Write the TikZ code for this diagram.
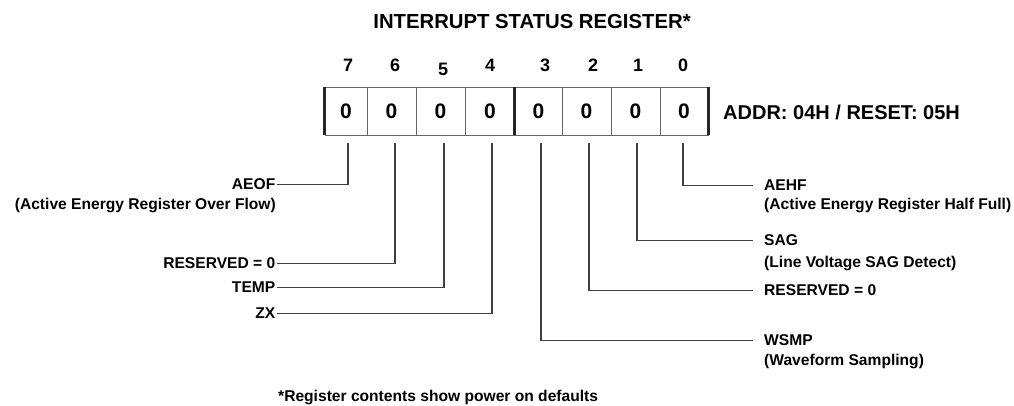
\documentclass[tikz,border=0pt]{standalone}
\usepackage{fontspec}
\setmainfont{Liberation Sans}
\begin{document}
\begin{tikzpicture}[x=1pt,y=-1pt,
  lbl/.style={font=\fontsize{15.6}{18}\selectfont\bfseries, inner sep=0pt},
  cell/.style={draw=black!60, line width=0.9pt, minimum height=48pt, inner sep=0pt,
    font=\fontsize{21}{24}\selectfont\bfseries},
  bitn/.style={font=\fontsize{18}{20}\selectfont\bfseries, inner sep=0pt, anchor=base},
  conn/.style={draw=black!75, line width=1.1pt},
  thick edge/.style={draw=black!85, line width=3pt}]
\useasboundingbox (0,0) rectangle (1014,405);

% title
\node[font=\fontsize{20.3}{23}\selectfont\bfseries, inner sep=0pt, anchor=base] (title) at (532,28.8) {INTERRUPT STATUS REGISTER*};

% bit numbers
\node[bitn] (n7) at (348,71.5) {7};
\node[bitn] (n6) at (395,71.5) {6};
\node[bitn] (n5) at (443,75.5) {5};
\node[bitn] (n4) at (490,71.5) {4};
\node[bitn] (n3) at (545,71.5) {3};
\node[bitn] (n2) at (593,71.5) {2};
\node[bitn] (n1) at (638,71.5) {1};
\node[bitn] (n0) at (683,71.5) {0};

% register cells
\node[cell, minimum width=42pt] (c7) at (346,111) {0};
\node[cell, minimum width=49pt] (c6) at (391.5,111) {0};
\node[cell, minimum width=49pt] (c5) at (440.5,111) {0};
\node[cell, minimum width=50pt] (c4) at (490,111) {0};
\node[cell, minimum width=47pt] (c3) at (538.5,111) {0};
\node[cell, minimum width=49pt] (c2) at (586.5,111) {0};
\node[cell, minimum width=49pt] (c1) at (635.5,111) {0};
\node[cell, minimum width=48pt] (c0) at (684,111) {0};
\draw[thick edge] (c7.north west) -- (c7.south west);
\draw[thick edge] (c3.north west) -- (c3.south west);
\draw[draw=black!85, line width=2.4pt] (c0.north east) -- (c0.south east);

\node[font=\fontsize{20}{23}\selectfont\bfseries, inner sep=0pt, anchor=base west] (addr) at (723,119) {ADDR: 04H / RESET: 05H};

% connector start points below the cells
\coordinate (b7) at (348,143);
\coordinate (b6) at (395,143);
\coordinate (b5) at (444,143);
\coordinate (b4) at (492,143);
\coordinate (b3) at (541,143);
\coordinate (b2) at (589,143);
\coordinate (b1) at (637,143);
\coordinate (b0) at (683,143);

% left labels
\node[lbl, anchor=base east, inner xsep=1.5pt] (aeof) at (277,189.6) {AEOF};
\node[lbl, anchor=base east] (aeofd) at (276,209.5) {(Active Energy Register Over Flow)};
\node[lbl, anchor=base east, inner xsep=1.5pt] (res6) at (277,268.6) {RESERVED = 0};
\node[lbl, anchor=base east, inner xsep=1.5pt] (temp) at (277,292.6) {TEMP};
\node[lbl, anchor=base east, inner xsep=1.5pt] (zx) at (277,318.6) {ZX};

% right labels
\node[lbl, anchor=base west] (aehf) at (764,190.6) {AEHF};
\node[lbl, anchor=base west] (aehfd) at (764,209) {(Active Energy Register Half Full)};
\node[lbl, anchor=base west] (sag) at (764,245.6) {SAG};
\node[lbl, anchor=base west] (sagd) at (764,267.5) {(Line Voltage SAG Detect)};
\node[lbl, anchor=base west] (res2) at (764,295.6) {RESERVED = 0};
\node[lbl, anchor=base west] (wsmp) at (764,345.6) {WSMP};
\node[lbl, anchor=base west] (wsmpd) at (764,365.5) {(Waveform Sampling)};

% connectors
\draw[conn] (aeof.east) -| (b7);
\draw[conn] (res6.east) -| (b6);
\draw[conn] (temp.east) -| (b5);
\draw[conn] (zx.east) -| (b4);
\draw[conn] (b0) |- ([xshift=-11pt]aehf.west);
\draw[conn] (b1) |- ([xshift=-11pt]sag.west);
\draw[conn] (b2) |- ([xshift=-11pt]res2.west);
\draw[conn] (b3) |- ([xshift=-11pt]wsmp.west);

% footnote
\node[lbl, anchor=base west] (foot) at (278,401) {*Register contents show power on defaults};
\end{tikzpicture}
\end{document}
